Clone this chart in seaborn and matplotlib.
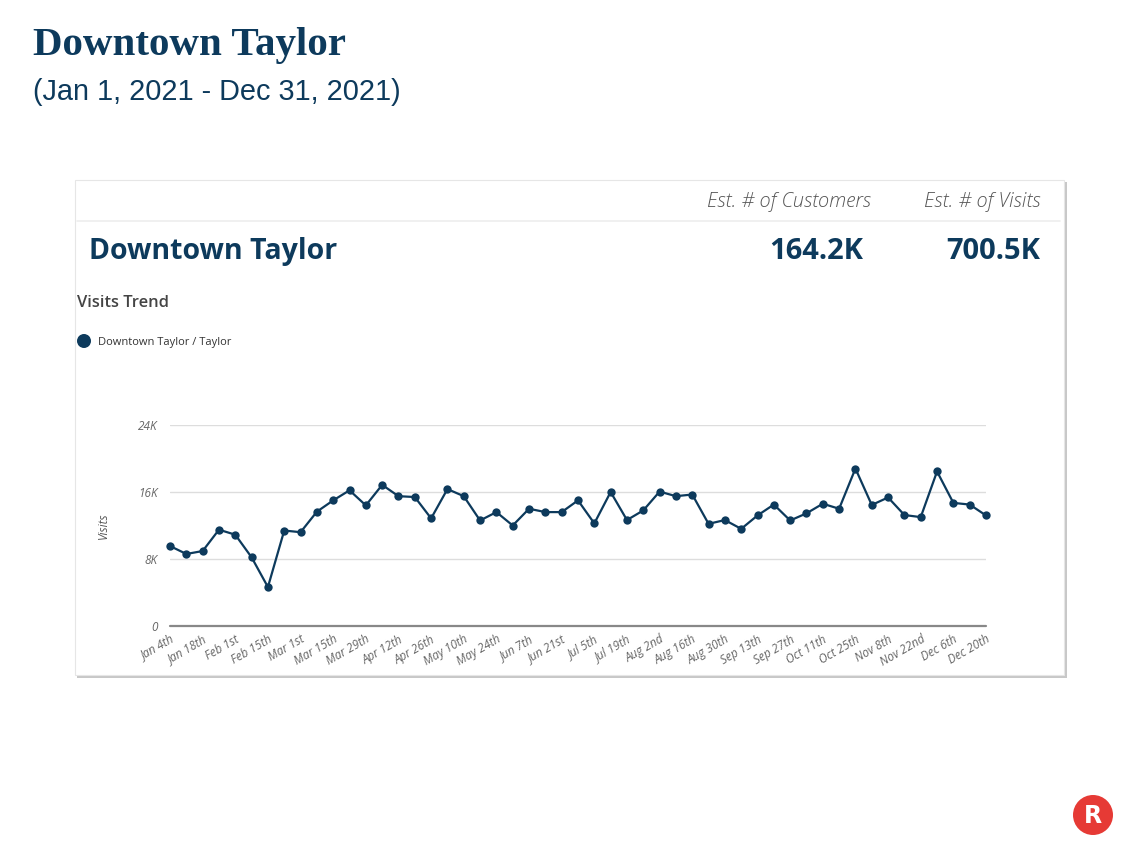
import matplotlib
matplotlib.use("Agg")
import matplotlib.pyplot as plt
import seaborn as sns
import pandas as pd
from matplotlib.patches import Rectangle, Circle

# weekly visits, Jan 4th .. Dec 20th 2021
visits = [9550, 8600, 8950, 11500, 10900, 8200, 4650, 11400, 11200, 13650,
          15000, 16200, 14400, 16850, 15500, 15400, 12850, 16350, 15500, 12600,
          13600, 12000, 14000, 13600, 13600, 15000, 12250, 16000, 12650, 13800,
          16050, 15500, 15700, 12200, 12650, 11600, 13200, 14500, 12600, 13450,
          14600, 14000, 18800, 14450, 15350, 13250, 13000, 18450, 14700, 14500,
          13200]
tick_labels = ["Jan 4th", "Jan 18th", "Feb 1st", "Feb 15th", "Mar 1st", "Mar 15th",
               "Mar 29th", "Apr 12th", "Apr 26th", "May 10th", "May 24th", "Jun 7th",
               "Jun 21st", "Jul 5th", "Jul 19th", "Aug 2nd", "Aug 16th", "Aug 30th",
               "Sep 13th", "Sep 27th", "Oct 11th", "Oct 25th", "Nov 8th", "Nov 22nd",
               "Dec 6th", "Dec 20th"]
y_ticks = [0, 8000, 16000, 24000]
y_tick_labels = ["0", "8K", "16K", "24K"]
series_name = "Downtown Taylor / Taylor"

navy = "#0d3a5c"
W, H = 1140, 855

sns.set_theme(style="white")
plt.rcParams["font.family"] = ["Open Sans", "DejaVu Sans"]

fig = plt.figure(figsize=(W / 100, H / 100), dpi=100)

# background layer in pixel coordinates (y down)
bg = fig.add_axes([0, 0, 1, 1], zorder=-1)
bg.set_xlim(0, W)
bg.set_ylim(H, 0)
bg.axis("off")

# page title
bg.text(33, 45, "Downtown Taylor", family="Liberation Serif", weight="bold",
        fontsize=29.5, color=navy, va="center", ha="left")
bg.text(33, 92, "(Jan 1, 2021 - Dec 31, 2021)", family="Liberation Sans",
        fontsize=20.8, color=navy, va="center", ha="left")

# card with shadow
bg.add_patch(Rectangle((77, 182), 990, 496, facecolor="#c8c8c8", edgecolor="none", zorder=0))
bg.add_patch(Rectangle((75, 180), 989, 495, facecolor="white", edgecolor="#e6e6e6",
                       lw=0.8, zorder=1))
bg.plot([77, 1060], [221, 221], color="#eeeeee", lw=1.2, zorder=2)

bg.text(871, 202, "Est. # of Customers", fontsize=14.4, style="italic",
        weight="light", color="#555555", ha="right", va="center", zorder=3)
bg.text(1040, 202, "Est. # of Visits", fontsize=14.4, style="italic",
        weight="light", color="#555555", ha="right", va="center", zorder=3)
bg.text(89, 251, "Downtown Taylor", fontsize=20.5, weight="bold",
        color=navy, ha="left", va="center", zorder=3)
bg.text(863, 251, "164.2K", fontsize=21, weight="bold", color=navy,
        ha="right", va="center", zorder=3)
bg.text(1040, 251, "700.5K", fontsize=21, weight="bold", color=navy,
        ha="right", va="center", zorder=3)
bg.text(77, 303, "Visits Trend", fontsize=11.9, weight="semibold",
        color="#444444", ha="left", va="center", zorder=3)

# legend
bg.add_patch(Circle((84, 341), 7, facecolor=navy, edgecolor="none", zorder=3))
bg.text(98, 342, series_name, fontsize=8, color="#333333",
        ha="left", va="center", zorder=3)

# logo
bg.add_patch(Circle((1093, 815), 20, facecolor="#e63a35", edgecolor="none", zorder=3))
bg.text(1093, 816, "R", fontsize=17, weight="bold", color="white",
        ha="center", va="center", family="DejaVu Sans", zorder=4)

# chart
ax = fig.add_axes([170 / W, 1 - 626 / H, (986 - 170) / W, (626 - 425) / H], zorder=1)
df = pd.DataFrame({"week": range(len(visits)), "visits": visits})
sns.lineplot(data=df, x="week", y="visits", ax=ax, color=navy, lw=1.6,
             marker="o", markersize=6, markeredgewidth=0, clip_on=False, zorder=5)
ax.set_xlim(0, len(visits) - 1)
ax.set_ylim(0, 24000)
for v in y_ticks[1:]:
    ax.axhline(v, color="#dddddd", lw=1, zorder=0)
ax.axhline(0, color="#888888", lw=1.6, zorder=1, clip_on=False)
for s in ax.spines.values():
    s.set_visible(False)
ax.set_yticks(y_ticks)
ax.set_yticklabels(y_tick_labels, fontsize=8.5, style="italic", color="#666666")
ax.set_xticks(range(0, len(visits), 2))
ax.set_xticklabels(tick_labels, fontsize=8.5, style="italic", color="#666666",
                   rotation=30, ha="right", rotation_mode="anchor")
ax.tick_params(axis="y", length=0, pad=9)
ax.tick_params(axis="x", length=0, pad=5)
ax.set_xlabel("")
ax.set_ylabel("Visits", fontsize=8.5, style="italic", color="#555555", labelpad=20)
ax.patch.set_alpha(0)

fig.savefig("out.png", dpi=100)
